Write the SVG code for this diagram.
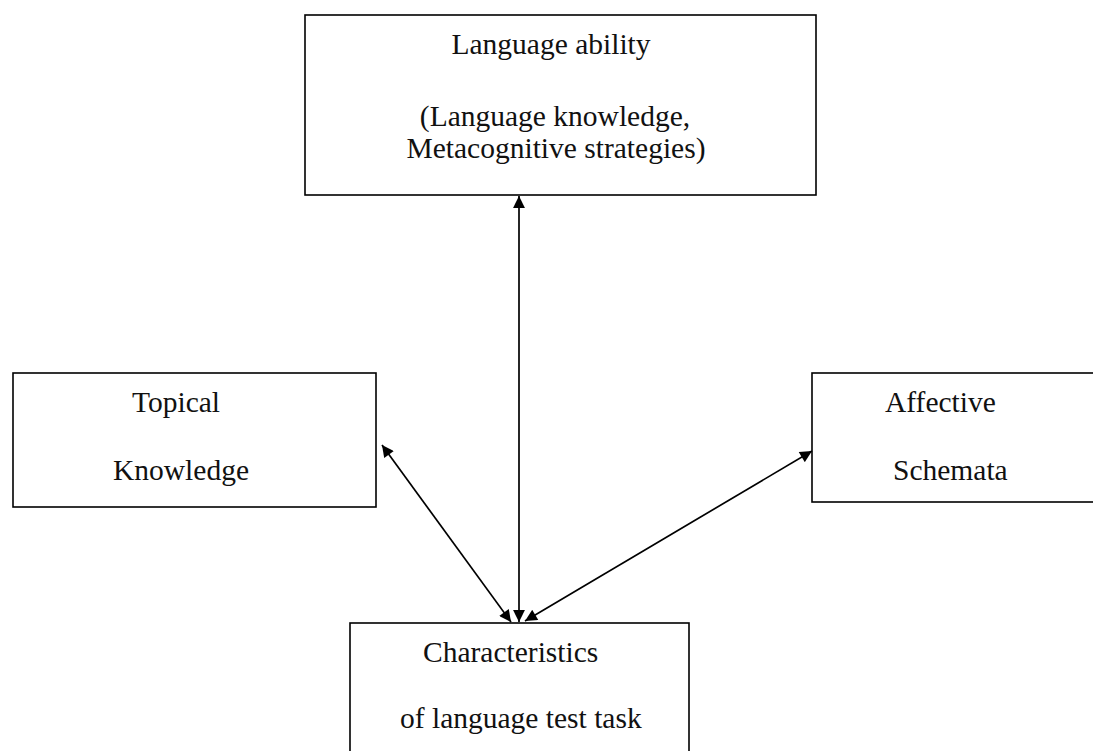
<svg xmlns="http://www.w3.org/2000/svg" width="1093" height="751" viewBox="0 0 1093 751">
<defs>
<marker id="ah" viewBox="0 0 10 10" refX="10" refY="5" markerWidth="8" markerHeight="7" markerUnits="strokeWidth" orient="auto-start-reverse">
<path d="M0,0 L10,5 L0,10 z" fill="#000"/>
</marker>
<style>
.box{fill:#fff;stroke:#000;stroke-width:1.6}
.t{font-family:"Liberation Serif",serif;font-size:29.5px;fill:#111}
.c{stroke:#000;stroke-width:1.7;fill:none}
</style>
</defs>
<rect width="1093" height="751" fill="#fff"/>
<g id="language-ability">
<rect class="box" x="305" y="15" width="511" height="180"/>
<text class="t" x="551" y="54" text-anchor="middle">Language ability</text>
<text class="t" x="555" y="126" text-anchor="middle">(Language knowledge,</text>
<text class="t" x="556" y="158" text-anchor="middle">Metacognitive strategies)</text>
</g>
<g id="topical-knowledge">
<rect class="box" x="13" y="373" width="363" height="134"/>
<text class="t" x="132" y="412">Topical</text>
<text class="t" x="113" y="480">Knowledge</text>
</g>
<g id="affective-schemata">
<rect class="box" x="812" y="373" width="290" height="129"/>
<text class="t" x="885" y="412">Affective</text>
<text class="t" x="893" y="480">Schemata</text>
</g>
<g id="characteristics">
<rect class="box" x="350" y="623" width="339" height="140"/>
<text class="t" x="423" y="662">Characteristics</text>
<text class="t" x="400" y="728">of language test task</text>
</g>
<g id="connectors">
<line class="c" x1="519" y1="622" x2="519" y2="196" marker-start="url(#ah)" marker-end="url(#ah)"/>
<line class="c" x1="511" y1="622" x2="382" y2="445" marker-start="url(#ah)" marker-end="url(#ah)"/>
<line class="c" x1="525" y1="621" x2="812" y2="451" marker-start="url(#ah)" marker-end="url(#ah)"/>
</g>
</svg>
